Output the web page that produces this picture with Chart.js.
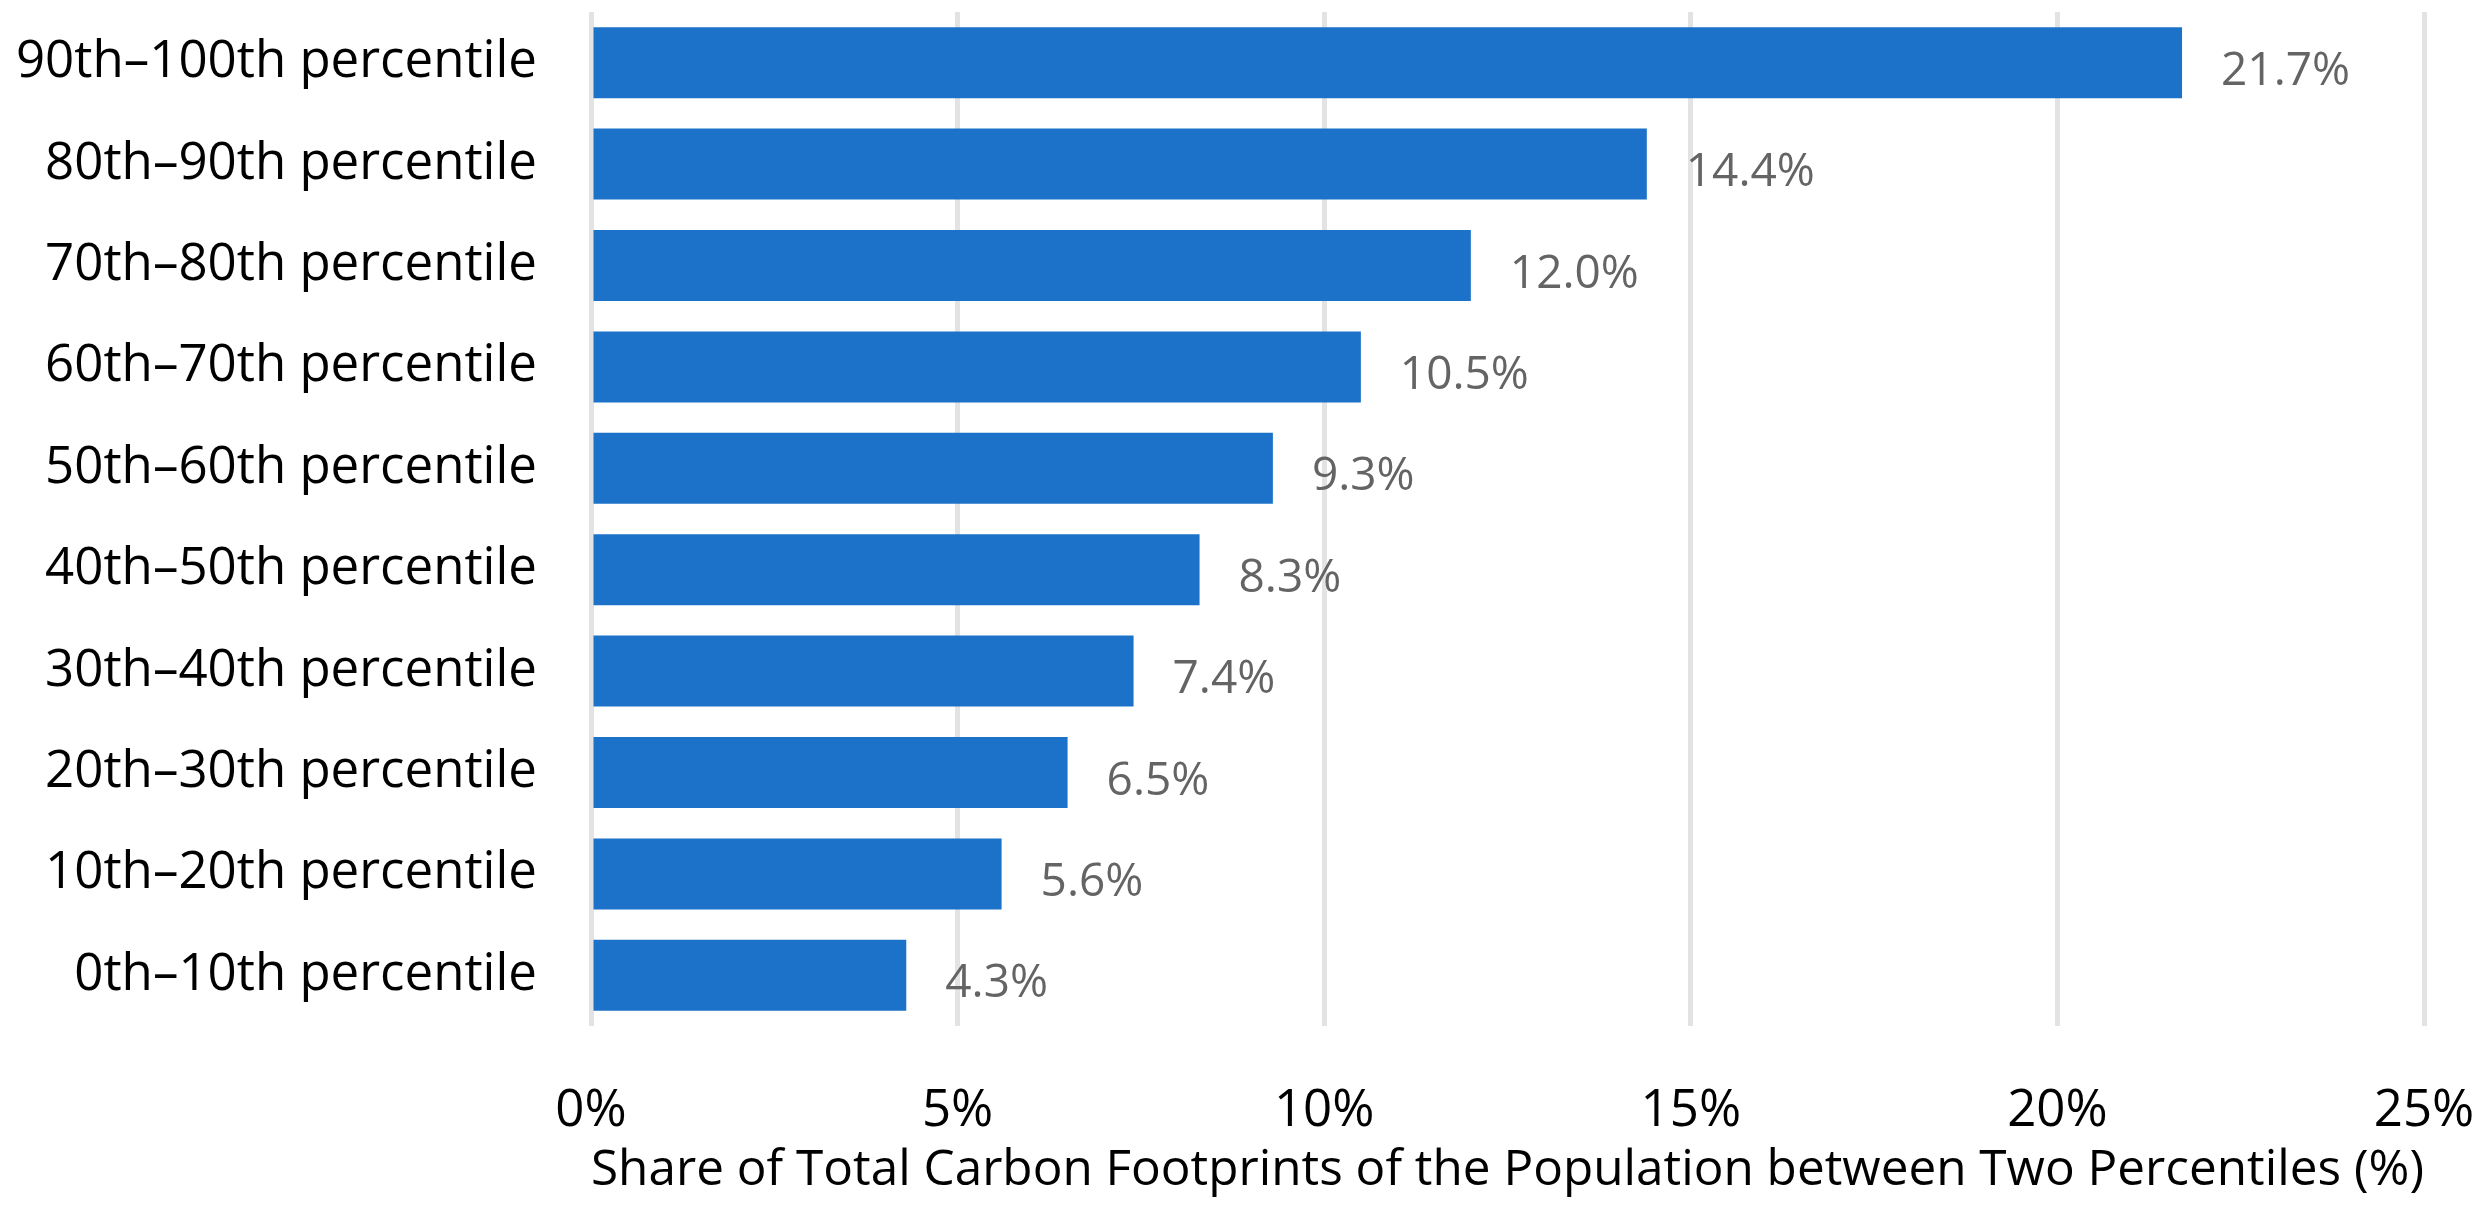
<!DOCTYPE html>
<html>
<head>
<meta charset="utf-8">
<script src="https://cdn.jsdelivr.net/npm/chart.js@4.4.1/dist/chart.umd.min.js"></script>
<style>
  html, body { margin: 0; padding: 0; background: #fff; }
  #wrap { width: 2482px; height: 1215px; }
</style>
</head>
<body>
<div id="wrap"><canvas id="shareChart" width="2482" height="1215"></canvas></div>
<script>
// data, top row first
const percentileGroups = [
  "90th\u2013100th percentile",
  "80th\u201390th percentile",
  "70th\u201380th percentile",
  "60th\u201370th percentile",
  "50th\u201360th percentile",
  "40th\u201350th percentile",
  "30th\u201340th percentile",
  "20th\u201330th percentile",
  "10th\u201320th percentile",
  "0th\u201310th percentile",
];
const shareValues = [21.7, 14.4, 12.0, 10.5, 9.3, 8.3, 7.4, 6.5, 5.6, 4.3];
const xTicks = [0, 5, 10, 15, 20, 25];
const xTitle = "Share of Total Carbon Footprints of the Population between Two Percentiles (%)";

Chart.defaults.font.family = "'Open Sans', 'DejaVu Sans', sans-serif";
Chart.defaults.color = "#000";

// value labels to the right of each bar
const barValueLabels = {
  id: "barValueLabels",
  afterDatasetsDraw(chart) {
    const ctx = chart.ctx;
    const meta = chart.getDatasetMeta(0);
    ctx.save();
    ctx.font = "46px 'Open Sans'";
    ctx.fillStyle = "#646464";
    ctx.textAlign = "left";
    ctx.textBaseline = "middle";
    meta.data.forEach((bar, i) => {
      ctx.fillText(shareValues[i].toFixed(1) + "%", bar.x + 39, bar.y + 9);
    });
    ctx.restore();
  },
};

const ctx = document.getElementById("shareChart");

new Chart(ctx, {
  type: "bar",
  data: {
    labels: percentileGroups,
    datasets: [
      {
        data: shareValues,
        backgroundColor: "#1b72c8",
        borderWidth: 0,
        barPercentage: 0.7,
        categoryPercentage: 1,
      },
    ],
  },
  options: {
    indexAxis: "y",
    responsive: false,
    animation: false,
    devicePixelRatio: 1,
    layout: { padding: { top: 12, right: 58, bottom: 0, left: 0 } },
    plugins: {
      legend: { display: false },
      tooltip: { enabled: false },
    },
    scales: {
      x: {
        min: 0,
        max: 25,
        afterBuildTicks: (scale) => {
          scale.ticks = xTicks.map((v) => ({ value: v }));
        },
        afterFit: (scale) => {
          scale.height = 189;
          // keep the plot edges where the reference has them
          scale.paddingLeft = 0;
          scale.paddingRight = 0;
        },
        grid: { color: "#e3e3e3", lineWidth: 5, drawTicks: false },
        border: { display: false },
        ticks: {
          padding: 55,
          font: { size: 51 },
          color: "#000",
          callback: (v) => v + "%",
        },
        title: {
          display: true,
          text: xTitle,
          font: { size: 50 },
          color: "#000",
          padding: { top: 0, bottom: 14 },
        },
      },
      y: {
        afterFit: (scale) => {
          scale.width = 591;
          scale.paddingTop = 0;
          scale.paddingBottom = 0;
        },
        grid: { display: false, drawTicks: false },
        border: { display: false },
        ticks: {
          padding: 54,
          font: { size: 51 },
          color: "#000",
        },
      },
    },
  },
  plugins: [barValueLabels],
});
</script>
</body>
</html>
